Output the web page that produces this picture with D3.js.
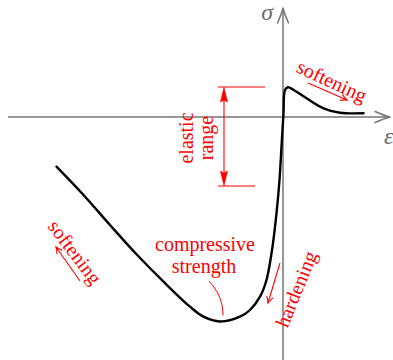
<!DOCTYPE html>
<html>
<head>
<meta charset="utf-8">
<script src="https://cdn.jsdelivr.net/npm/d3@7"></script>
<style>
  html, body { margin: 0; padding: 0; background: #fff; }
  svg { display: block; }
  .note { font-family: "Liberation Serif", "DejaVu Serif", serif; fill: #ff0000; }
</style>
</head>
<body>
<svg id="chart" width="393" height="360"></svg>
<script>
// Stress–strain curve of concrete (strain, stress)
const strain = [-4.53, -3.99, -3.46, -2.93, -2.39, -1.86, -1.59, -1.26, -0.86, -0.66, -0.46, -0.33, -0.21, -0.13, -0.07, -0.03, 0.01, 0.04, 0.10, 0.20, 0.47, 0.81, 1.14, 1.61];
const stress = [-4.97, -7.8, -10.8, -13.73, -16.47, -18.97, -19.97, -20.45, -19.97, -19.3, -17.97, -16.3, -12.97, -9.63, -6.3, -2.97, 0.37, 2.7, 2.97, 2.75, 1.87, 0.87, 0.43, 0.37];
// Limits of the elastic range (stress)
const elasticRange = [-6.9, 3.0];
const axisLabels = ["ε", "σ"];

const svg = d3.select("#chart");
const x = d3.scaleLinear().domain([-5.5, 2.14]).range([8, 390]);
const y = d3.scaleLinear().domain([10.9, -24.3]).range([8, 360]);

const axisColor = "#747474";
const x0 = x(0), y0 = y(0);

// axes
svg.append("line").attr("x1", x(-5.5)).attr("x2", x(2.14) - 1).attr("y1", y0).attr("y2", y0)
  .attr("stroke", axisColor).attr("stroke-width", 1.5);
svg.append("line").attr("x1", x0).attr("x2", x0).attr("y1", y(-24.3)).attr("y2", y(10.9) + 1)
  .attr("stroke", axisColor).attr("stroke-width", 1.5);

// open arrow heads on the axes
function openHead(tx, ty, angle) {
  svg.append("path")
    .attr("d", "M-15,-5.5 Q-6,-1.5 0,0 Q-6,1.5 -15,5.5")
    .attr("transform", `translate(${tx},${ty}) rotate(${angle})`)
    .attr("fill", "none").attr("stroke", axisColor).attr("stroke-width", 1.5)
    .attr("stroke-linecap", "round").attr("stroke-linejoin", "round");
}
openHead(x(2.14), y0, 0);
openHead(x0, y(10.9), -90);

svg.append("text").text(axisLabels[0])
  .attr("x", x(2.14) - 6).attr("y", y0 + 27)
  .attr("font-family", "Liberation Serif, serif").attr("font-style", "italic")
  .attr("font-size", 24).attr("fill", "#6a6a6a");
svg.append("text").text(axisLabels[1])
  .attr("x", x0 - 10).attr("y", y(10.9) + 12).attr("text-anchor", "end")
  .attr("font-family", "Liberation Serif, serif").attr("font-style", "italic")
  .attr("font-size", 24).attr("fill", "#6a6a6a");

// curve
const pts = strain.map((e, i) => [e, stress[i]]);
const line = d3.line().x(d => x(d[0])).y(d => y(d[1])).curve(d3.curveCatmullRom.alpha(0.5));
svg.append("path").attr("d", line(pts))
  .attr("fill", "none").attr("stroke", "#000").attr("stroke-width", 2.4)
  .attr("stroke-linecap", "round").attr("stroke-linejoin", "round");

// red annotations
const red = "#ff0000";
function smallArrow(e1, s1, e2, s2) {
  const ax = x(e1), ay = y(s1), bx = x(e2), by = y(s2);
  const ang = Math.atan2(by - ay, bx - ax) * 180 / Math.PI;
  svg.append("line").attr("x1", ax).attr("y1", ay).attr("x2", bx).attr("y2", by)
    .attr("stroke", red).attr("stroke-width", 1.1);
  svg.append("path").attr("d", "M-6,-3 Q-2.5,-0.8 0,0 Q-2.5,0.8 -6,3")
    .attr("transform", `translate(${bx},${by}) rotate(${ang})`)
    .attr("fill", "none").attr("stroke", red).attr("stroke-width", 1.1).attr("stroke-linecap", "round");
}
function note(txt, e, s, angle) {
  svg.append("text").attr("class", "note").text(txt)
    .attr("text-anchor", "middle").attr("dominant-baseline", "central")
    .attr("font-size", 20)
    .attr("transform", `translate(${x(e)},${y(s)}) rotate(${angle})`);
}

// softening in tension
smallArrow(0.5, 3.4, 1.28, 1.7);
note("softening", 0.98, 3.6, 25);
// softening in compression
smallArrow(-4.06, -16.4, -4.54, -13.0);
note("softening", -4.16, -13.5, 53);
// hardening
smallArrow(-0.06, -14.6, -0.30, -18.6);
note("hardening", 0.26, -17.2, -68);

// elastic range bracket
const ex = x(-1.18);
const [lo, hi] = elasticRange;
svg.append("line").attr("x1", x(-1.3)).attr("x2", x(-0.36)).attr("y1", y(hi)).attr("y2", y(hi))
  .attr("stroke", red).attr("stroke-width", 1);
svg.append("line").attr("x1", x(-1.3)).attr("x2", x(-0.56)).attr("y1", y(lo)).attr("y2", y(lo))
  .attr("stroke", red).attr("stroke-width", 1);
svg.append("line").attr("x1", ex).attr("x2", ex).attr("y1", y(hi) + 6).attr("y2", y(lo) - 6)
  .attr("stroke", red).attr("stroke-width", 1.1);
function filledHead(tx, ty, angle) {
  svg.append("path").attr("d", "M0,0 L-15,-3.6 Q-12,0 -15,3.6 Z")
    .attr("transform", `translate(${tx},${ty}) rotate(${angle})`)
    .attr("fill", red).attr("stroke", red).attr("stroke-width", 0.5);
}
filledHead(ex, y(hi), -90);
filledHead(ex, y(lo), 90);
svg.append("text").attr("class", "note").text("elastic")
  .attr("text-anchor", "middle").attr("dominant-baseline", "central").attr("font-size", 20)
  .attr("transform", `translate(${x(-1.94)},${y(-2.1)}) rotate(-90)`);
svg.append("text").attr("class", "note").text("range")
  .attr("text-anchor", "middle").attr("dominant-baseline", "central").attr("font-size", 20)
  .attr("transform", `translate(${x(-1.54)},${y(-2.1)}) rotate(-90)`);

// compressive strength label with leader
const minIdx = d3.minIndex(stress);
const mx = x(strain[minIdx]), my = y(stress[minIdx]);
svg.append("text").attr("class", "note").text("compressive")
  .attr("text-anchor", "middle").attr("font-size", 20)
  .attr("x", x(-1.56)).attr("y", y(-13.4));
svg.append("text").attr("class", "note").text("strength")
  .attr("text-anchor", "middle").attr("font-size", 20)
  .attr("x", x(-1.58)).attr("y", y(-15.6));
svg.append("path")
  .attr("d", `M${x(-1.48)},${y(-16.4)} C${x(-1.32)},${y(-17.3)} ${mx + 3},${y(-18.3)} ${mx + 3},${my - 6}`)
  .attr("fill", "none").attr("stroke", red).attr("stroke-width", 1);
</script>
</body>
</html>
